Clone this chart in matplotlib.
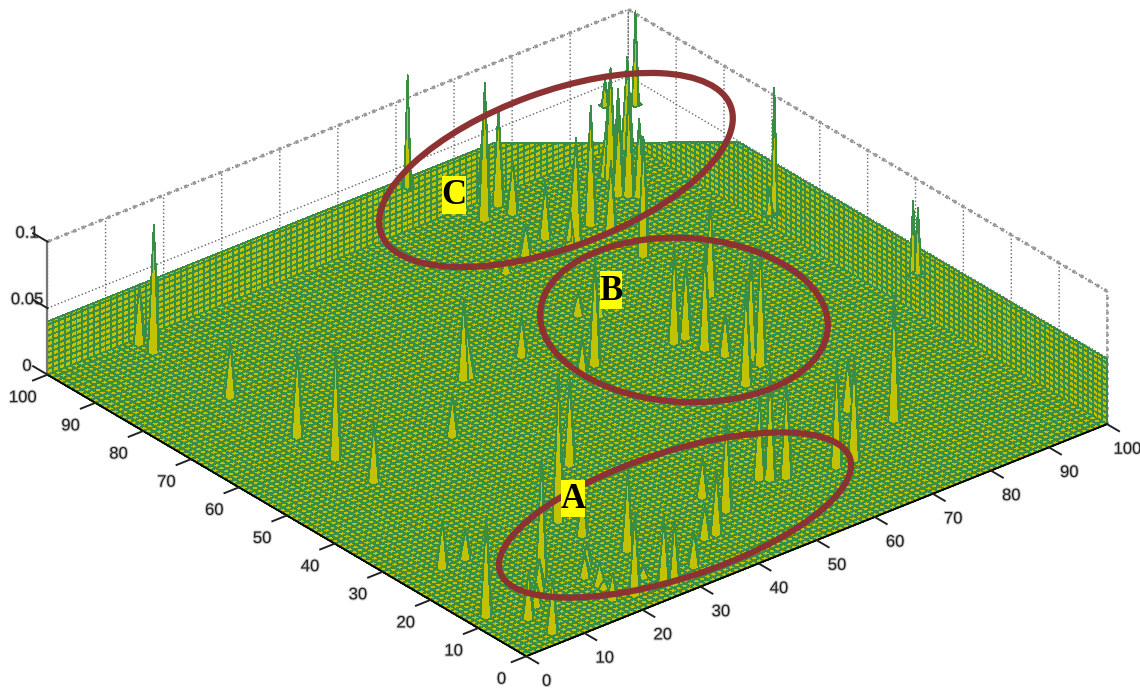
import numpy as np
import matplotlib
matplotlib.use('Agg')
import matplotlib.pyplot as plt
import matplotlib.patheffects as pe
from matplotlib.patches import Ellipse, Rectangle

# spikes standing on the floor
spike_x = [31,42,43,27,38,15,27,7,11,3,7,13,10,7,20,22,20,20,19,29,22,26,27,28,33,39,41,46,46,
           77,76,82,83,91,91,92,82,65,58,55,67,70,72,72,82,73,70,75,75,79,65,76,68,55,56,58,
           72,76,76,75,70,65,75,92,92,90,99,15,15,15,15,15,15,52]
spike_y = [53,64,64,26,37,15,21,26,26,12,8,13,10,3,12,14,9,8,5,14,4,7,4,3,5,10,10,19,14,
           83,83,86,83,89,91,88,75,68,56,55,66,54,54,50,61,47,39,42,44,19,14,25,14,18,17,16,
           96,98,95,87,85,83,100,95,94,90,99,96,99,80,66,58,50,64]
spike_h = [.029,.06,.021,.109,.063,.09,.034,.035,.021,.074,.034,.023,.016,.04,.017,.017,.016,.006,.019,.059,.062,.008,.049,.047,.026,.025,.047,.029,.073,
           .08,.027,.089,.052,.077,.058,.057,.089,.017,.081,.027,.014,.072,.058,.077,.071,.032,.076,.089,.08,.093,.079,.038,.077,.062,.085,.071,
           .102,.071,.039,.041,.023,.011,.06,.034,.083,.079,.068,.095,.044,.041,.064,.083,.044,.029]
# spikes that start above the floor, along the two far edges
rim_x = [100,100,100,100,62,100,96]
rim_y = [69.5,70.5,40.5,39.5,100,98.5,100]
rim_base = [.012,.009,.026,.030,.033,.032,.035]
rim_top = [.106,.029,.082,.079,.117,.102,.055]
# height of the raised band behind the floor
band_pos = [0,77,100]
band_left = [.04,.04,0]
band_right = [.049,.049,0]

ticks_xy = list(range(0,101,10))
ticks_z = [0,.05,.1]
z_labels = ['0','0.05','0.1']

rings = {'A':(675,515,368,126,-18), 'B':(684,320,288,164,3), 'C':(556,170,372,156,-20)}
letters = {'A':(561,480,24,37), 'B':(600,271,22,38), 'C':(442,176,24,38)}

YEL = '#c2c200'
TEAL = '#3a8d45'
BROWN = '#8c3232'
INK = '#222222'

plt.rcParams['font.family'] = ['Liberation Sans','DejaVu Sans']

fig = plt.figure(figsize=(11.4,6.89),dpi=100)
ax = fig.add_axes([-0.0018,0.0033,1,1],projection='3d',proj_type='ortho',computed_zorder=False)
ax.view_init(elev=29,azim=230.5)
ax.set_box_aspect((1,1,.202),zoom=1.515)
ax.set_xlim(0,100,view_margin=0)
ax.set_ylim(0,100,view_margin=0)
ax.set_zlim(0,.1,view_margin=0)

for a in (ax.xaxis,ax.yaxis,ax.zaxis):
    a.set_pane_color((1,1,1,0))
    a.line.set_color((1,1,1,0))
    a._axinfo['grid'].update(color='#666666',linestyle=':',linewidth=1)
    a._axinfo['tick'].update(inward_factor=0,outward_factor=0)
ax.set_xticks(ticks_xy)
ax.set_yticks(ticks_xy)
ax.set_zticks(ticks_z,z_labels)
ax.tick_params(labelsize=12,colors=INK,pad=3)
ax.tick_params(axis='z',pad=-3)
for t in ax.get_xticklabels()+ax.get_yticklabels()+ax.get_zticklabels():
    t.set_path_effects([pe.withStroke(linewidth=1.5,foreground='#c8c8c8')])
for t in ax.get_zticklabels():
    t.set_verticalalignment('bottom')

def line3d(xs,ys,zs,**kw):
    ax.plot(xs,ys,zs,clip_on=False,**kw)

# top edges of the box and the z axis
line3d([0,100],[100,100],[.1,.1],color='#999999',ls=':',lw=2.5,zorder=1)
line3d([100,100],[100,0],[.1,.1],color='#999999',ls=':',lw=2.5,zorder=1)
line3d([100,100],[0,0],[0,.1],color='#999999',ls=':',lw=2,zorder=1)

surf_kw = dict(rstride=1,cstride=1,color=YEL,edgecolor=TEAL,linewidth=.6,shade=False,antialiased=False)

# band behind the floor, rows stop at the band height so they do not bunch up
g = np.arange(0,101)
lev = np.linspace(0,.05,13)
G,L = np.meshgrid(g,lev)
s1 = ax.plot_surface(G,np.full(G.shape,100),np.minimum(L,np.interp(G,band_pos,band_left)),zorder=2,**surf_kw)
s2 = ax.plot_surface(np.full(G.shape,100),G,np.minimum(L,np.interp(G,band_pos,band_right)),zorder=2,**surf_kw)
s1.set_clip_on(False)
s2.set_clip_on(False)

# rim spikes
for x,y,b,t in zip(rim_x,rim_y,rim_base,rim_top):
    xx,yy = np.meshgrid([x-.6,x,x+.6],[y-.6,y,y+.6])
    zz = np.full(xx.shape,b)
    zz[1,1] = t
    s = ax.plot_surface(xx,yy,zz,zorder=3,**surf_kw)
    s.set_clip_on(False)

# floor
X,Y = np.meshgrid(g,g)
Z = np.zeros(X.shape)
for x,y,h in zip(spike_x,spike_y,spike_h):
    Z[y,x] = h
floor = ax.plot_surface(X,Y,Z,zorder=4,**surf_kw)
floor.set_clip_on(False)

# front axes and ticks
line3d([0,100],[0,0],[0,0],color='black',lw=1.4,zorder=5)
line3d([0,0],[0,100],[0,0],color='black',lw=1.4,zorder=5)
line3d([0,0],[100,100],[0,.1],color='#777777',lw=1.6,zorder=5)
for t in ticks_xy:
    line3d([t,t],[0,-2.5],[0,0],color=INK,lw=1.4,zorder=5)
    line3d([0,-2.5],[t,t],[0,0],color=INK,lw=1.4,zorder=5)
for t in ticks_z:
    line3d([0,0],[100,103],[t,t],color=INK,lw=1.4,zorder=5)

# overlay for the hand drawn rings and letters
ov = fig.add_axes([0,0,1,1])
ov.set_xlim(0,1140)
ov.set_ylim(689,0)
ov.axis('off')
for k,(cx,cy,w,h,ang) in rings.items():
    ov.add_patch(Ellipse((cx,cy),w,h,angle=ang,fill=False,edgecolor=BROWN,linewidth=4.5))
for k,(lx,ly,w,h) in letters.items():
    ov.add_patch(Rectangle((lx,ly),w,h,facecolor='#ffff00',edgecolor='none',zorder=3))
    ov.text(lx+w/2,ly+h/2+1,k,ha='center',va='center',family='Liberation Serif',fontweight='bold',fontsize=25,color='black',zorder=4)

fig.savefig('out.png',dpi=100)
